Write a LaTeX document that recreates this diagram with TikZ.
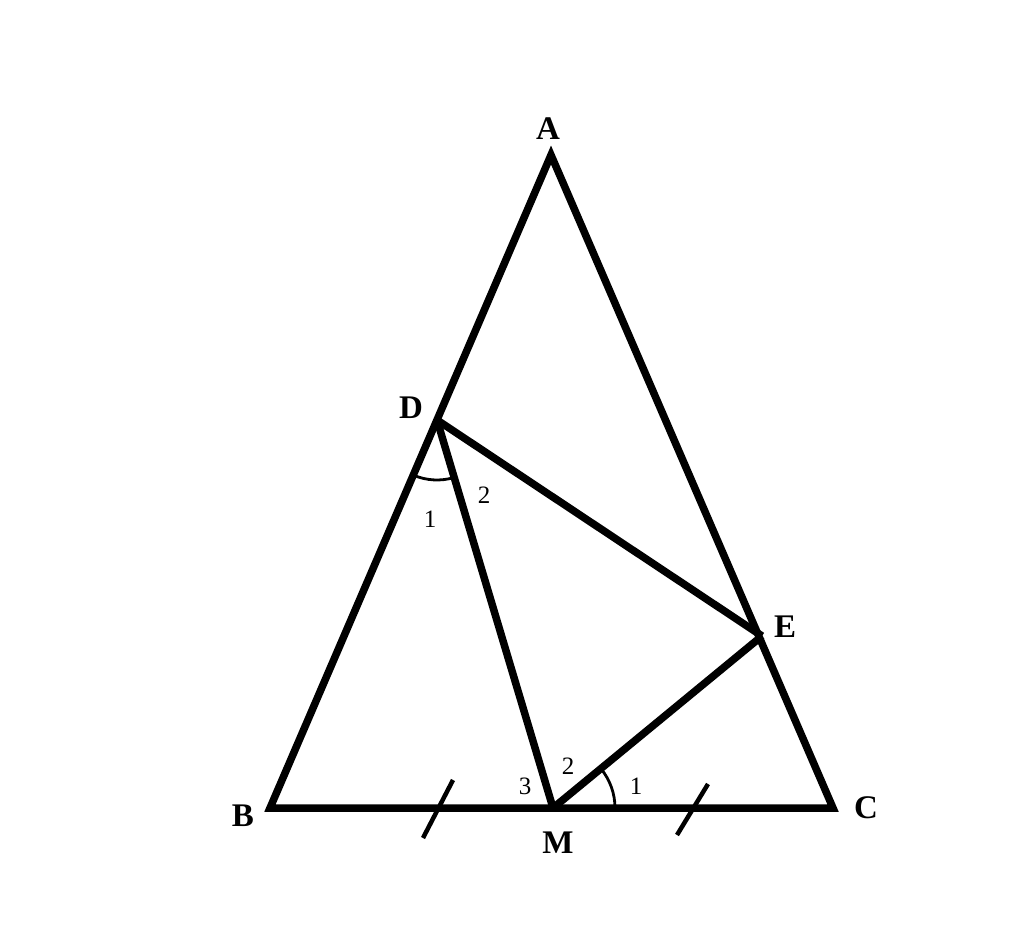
\documentclass[tikz,border=0pt]{standalone}
\usepackage{fontspec}
\setmainfont{Liberation Serif}
\begin{document}
\begin{tikzpicture}[x=1pt,y=1pt,
  edge/.style={line width=7.5pt},
  tick/.style={line width=4.5pt},
  anglearc/.style={line width=2.8pt},
  vlabel/.style={font=\fontsize{33}{36}\selectfont\bfseries, inner sep=0pt},
  alabel/.style={font=\fontsize{25}{28}\selectfont, inner sep=0pt}]
\useasboundingbox (0,0) rectangle (1024,948);
\coordinate (A) at (551,793);
\coordinate (B) at (270,140);
\coordinate (C) at (833,140);
\coordinate (M) at (553,140);
\coordinate (D) at (437,528);
\coordinate (E) at (762,312);
\draw[edge] (A) -- (B) -- (C) -- cycle;
\draw[edge] (D) -- (M);
\draw[edge] (D) -- (E);
\draw[edge] (M) -- (E);
% angle arcs
\draw[anglearc] ([shift={(246.7:60pt)}]D) arc[start angle=246.7, end angle=286.6, radius=60pt];
\draw[anglearc] ([shift={(0:62pt)}]M) arc[start angle=0, end angle=39.5, radius=62pt];
% ticks
\coordinate (t1a) at (423,110); \coordinate (t1b) at (453,168);
\coordinate (t2a) at (677,113); \coordinate (t2b) at (708,164);
\draw[tick] (t1a) -- (t1b);
\draw[tick] (t2a) -- (t2b);
% vertex labels
\node[vlabel] (lA) at (548,819) {A};
\node[vlabel] (lB) at (243,132) {B};
\node[vlabel] (lC) at (866,140) {C};
\node[vlabel] (lM) at (558,105) {M};
\node[vlabel] (lD) at (411,540) {D};
\node[vlabel] (lE) at (785,321) {E};
% angle labels
\node[alabel] (d1) at (430,429) {1};
\node[alabel] (d2) at (484,453) {2};
\node[alabel] (m3) at (525,162) {3};
\node[alabel] (m2) at (568,182) {2};
\node[alabel] (m1) at (636,162) {1};
\end{tikzpicture}
\end{document}
